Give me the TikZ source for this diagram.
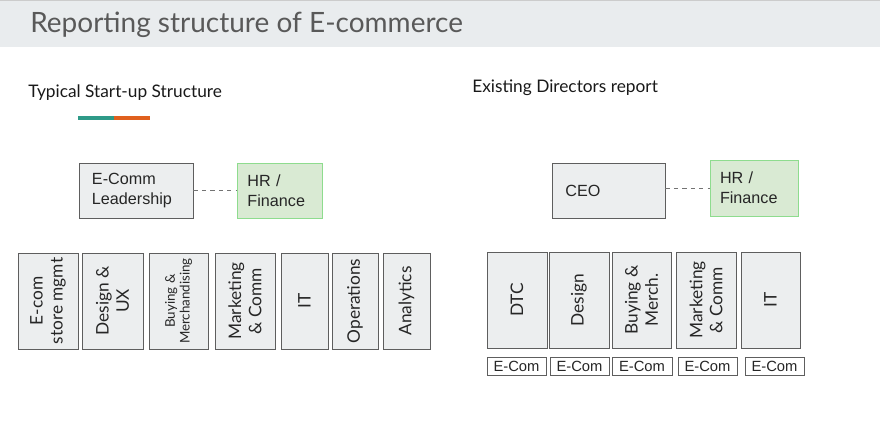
\documentclass[tikz,border=0pt]{standalone}
\usepackage{fontspec}
\setmainfont{Lato}
\newfontfamily\arialfont{Liberation Sans}
\usepackage{tikz}
\definecolor{bandgray}{HTML}{E9ECEE}
\definecolor{titlegray}{HTML}{595959}
\definecolor{boxgray}{HTML}{ECEEEF}
\definecolor{edgegray}{HTML}{5E5E5E}
\definecolor{hrgreen}{HTML}{D9EAD3}
\definecolor{hredge}{HTML}{8EDC8E}
\definecolor{tealbar}{HTML}{2E9A88}
\definecolor{orangebar}{HTML}{E0601E}
\tikzset{
  headbox/.style={draw=edgegray, fill=boxgray, line width=0.6pt, minimum height=1.375cm,
    align=left, anchor=center, font=\arialfont\fontsize{11.5}{14}\selectfont, text=black!85},
  hrbox/.style={draw=hredge, fill=hrgreen, line width=0.6pt, minimum height=1.375cm,
    align=left, font=\arialfont\fontsize{11.5}{14.5}\selectfont, text=black!85},
  dept/.style={draw=edgegray, fill=boxgray, line width=0.6pt, rotate=90, minimum width=2.4cm,
    align=center, inner sep=0pt, font=\fontsize{12.3}{14.3}\selectfont, text=black!85},
  ecom/.style={draw=edgegray, fill=white, line width=0.6pt, minimum height=0.45cm, inner sep=0pt,
    font=\arialfont\fontsize{10.5}{11}\selectfont, text=black!85},
  dotlink/.style={draw=black!55, dashed, line width=0.7pt},
  subhead/.style={anchor=west, font=\fontsize{12.3}{14}\selectfont, text=black!90},
}

\begin{document}
\begin{tikzpicture}[x=0.025cm, y=-0.025cm]
\useasboundingbox (0,0) rectangle (880,425);
% title band
\fill[bandgray] (0,0) rectangle (880,47);
\draw[black!20, line width=0.8pt] (0,0.5) -- (880,0.5);
\node[anchor=base west, inner sep=0pt, text=titlegray, font=\fontsize{19.9}{22}\selectfont] (title) at (30,33) {Reporting structure of E-commerce};

% left: start-up
\node[subhead, inner sep=0pt] (typ) at (28,93) {Typical Start-up Structure};
\draw[tealbar, line width=2.8pt] (78,118) -- (114,118);
\draw[orangebar, line width=2.8pt] (114,118) -- (150,118);

\node[headbox, minimum width=2.85cm, text width=2.2cm] (lead) at (136,190.5) {E-Comm\\Leadership};
\node[hrbox, minimum width=2.125cm, text width=1.6cm] (hrl) at (279.5,190.5) {HR /\\Finance};
\draw[dotlink] (lead.east) -- (hrl.west);

\node[dept, minimum height=1.5cm] (store) at (48,301) {E-com\\store mgmt};
\node[dept, minimum height=1.525cm] (design) at (112.5,301) {Design \&\\UX};
\node[dept, minimum height=1.475cm, font=\fontsize{9.5}{10.5}\selectfont] (buying) at (178.5,301) {Buying \&\\Merchandising};
\node[dept, minimum height=1.5cm] (mkt) at (245,301) {Marketing\\\& Comm};
\node[dept, minimum height=1.175cm] (it) at (304.5,301) {IT};
\node[dept, minimum height=1.15cm] (ops) at (355,301) {Operations};
\node[dept, minimum height=1.175cm] (ana) at (406.5,301) {Analytics};

% right: directors
\node[subhead, inner sep=0pt] (exist) at (472,88) {Existing Directors report};

\node[headbox, minimum width=2.825cm, text width=2.15cm] (ceo) at (608.5,190.5) {CEO};
\node[hrbox, minimum width=2.2cm, minimum height=1.4cm, text width=1.7cm] (hrr) at (754,188) {HR /\\Finance};
\draw[dotlink] (ceo.east |- hrr.west) -- (hrr.west);

\node[dept, minimum height=1.5cm] (dtc) at (517,300) {DTC};
\node[dept, minimum height=1.5cm] (rdesign) at (579,300) {Design};
\node[dept, minimum height=1.475cm] (rbuy) at (641.5,300) {Buying \&\\Merch.};
\node[dept, minimum height=1.5cm] (rmkt) at (706,300) {Marketing\\\& Comm};
\node[dept, minimum height=1.475cm] (rit) at (770.5,300) {IT};

\node[ecom, minimum width=1.475cm] (e1) at (516.5,366) {E-Com};
\node[ecom, minimum width=1.475cm] (e2) at (579.5,366) {E-Com};
\node[ecom, minimum width=1.5cm] (e3) at (642,366) {E-Com};
\node[ecom, minimum width=1.475cm] (e4) at (707.5,366) {E-Com};
\node[ecom, minimum width=1.475cm] (e5) at (774.5,366) {E-Com};
\end{tikzpicture}
\end{document}
